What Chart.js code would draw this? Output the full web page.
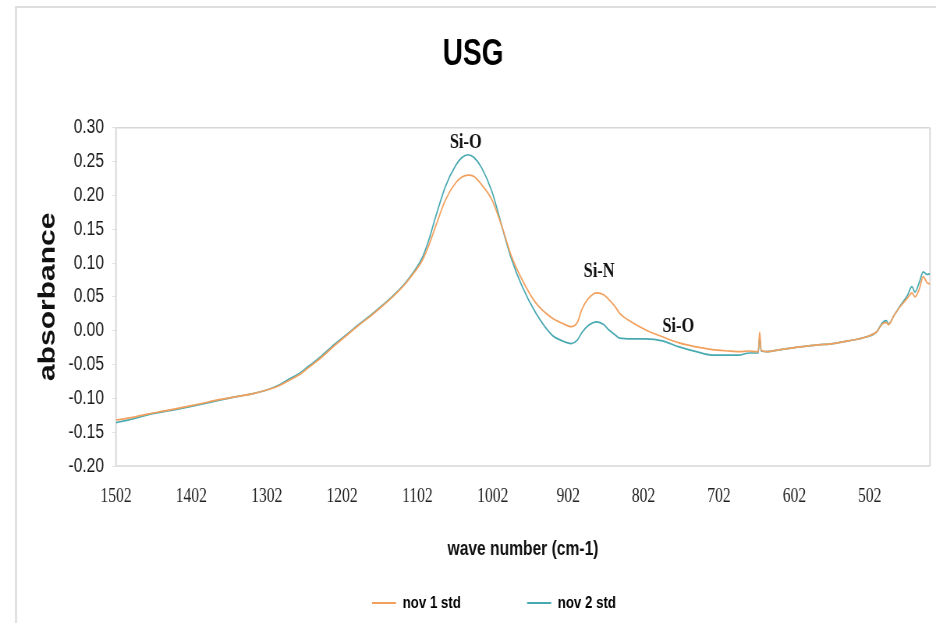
<!DOCTYPE html>
<html>
<head>
<meta charset="utf-8">
<script src="https://cdn.jsdelivr.net/npm/chart.js@4.4.1/dist/chart.umd.min.js"></script>
<style>
  html, body { margin: 0; padding: 0; background: #ffffff; }
  #wrap { width: 936px; height: 623px; overflow: hidden; }
  #usg { display: block; }
</style>
</head>
<body>
<div id="wrap"><canvas id="usg"></canvas></div>
<script>
// FTIR absorbance spectra of USG films (wave number in cm-1, decreasing to the right)
const wavenumbers = [
  1502, 1490, 1475, 1459, 1440, 1425, 1412, 1390, 1366, 1340, 1320, 1300, 1285, 1273,
  1260, 1247, 1230, 1212, 1195, 1180, 1165, 1150, 1135, 1120, 1107, 1096, 1087, 1078,
  1065, 1051, 1043, 1035, 1027, 1017, 1003, 990, 977, 963, 945, 924, 910, 898, 890,
  884, 875, 864, 855, 848, 840, 834, 817, 799, 777, 755, 732, 711, 690, 675, 662, 652,
  650, 648, 646, 639, 620, 595, 570, 551, 530, 506, 493, 485, 480, 477, 470, 462, 452,
  446, 442, 436, 431, 426, 422
];
const nov1Std = [
  -0.132, -0.130, -0.127, -0.123, -0.119, -0.116, -0.113, -0.108, -0.102, -0.097, -0.093, -0.087, -0.081, -0.074,
  -0.066, -0.055, -0.040, -0.022, -0.006, 0.008, 0.021, 0.035, 0.050, 0.067, 0.085, 0.103, 0.126, 0.154,
  0.193, 0.219, 0.227, 0.230, 0.228, 0.216, 0.193, 0.154, 0.109, 0.075, 0.041, 0.019, 0.011, 0.006, 0.012,
  0.031, 0.048, 0.056, 0.053, 0.046, 0.036, 0.026, 0.012, 0.001, -0.009, -0.018, -0.024, -0.028, -0.030, -0.031, -0.030, -0.031,
  -0.031, -0.002, -0.029, -0.031, -0.028, -0.024, -0.021, -0.019, -0.015, -0.009, -0.002, 0.010, 0.012, 0.009, 0.022, 0.035, 0.048,
  0.056, 0.050, 0.062, 0.080, 0.071, 0.069
];
const nov2Std = [
  -0.136, -0.133, -0.129, -0.124, -0.120, -0.117, -0.114, -0.109, -0.103, -0.097, -0.093, -0.087, -0.080, -0.072,
  -0.064, -0.053, -0.038, -0.020, -0.005, 0.009, 0.022, 0.036, 0.051, 0.068, 0.087, 0.107, 0.134, 0.168,
  0.213, 0.245, 0.256, 0.260, 0.256, 0.241, 0.205, 0.154, 0.105, 0.065, 0.026, -0.006, -0.015, -0.019, -0.014,
  -0.003, 0.008, 0.013, 0.009, 0.001, -0.006, -0.011, -0.012, -0.012, -0.015, -0.024, -0.031, -0.036, -0.036, -0.036, -0.033, -0.033,
  -0.033, -0.009, -0.030, -0.031, -0.028, -0.024, -0.021, -0.019, -0.015, -0.009, -0.002, 0.012, 0.015, 0.010, 0.022, 0.036, 0.052,
  0.065, 0.057, 0.072, 0.087, 0.083, 0.084
];
const seriesNames = ['nov 1 std', 'nov 2 std'];
const xTickValues = [1502, 1402, 1302, 1202, 1102, 1002, 902, 802, 702, 602, 502];
const yTickValues = [-0.20, -0.15, -0.10, -0.05, 0.00, 0.05, 0.10, 0.15, 0.20, 0.25, 0.30];

// band assignments written above the peaks
const bandNames = ['Si-O', 'Si-N', 'Si-O'];
const bandWavenumbers = [1038, 861, 756];
const bandAbsorbance = [0.278, 0.087, 0.006];

// The figure is laid out on a wider canvas and shown squeezed horizontally,
// which gives its lettering the tall, condensed look of the printed figure.
const PAGE_W = 936, PAGE_H = 623;
const K = 0.78;                       // horizontal squeeze factor
const CANVAS_W = Math.round(PAGE_W / K);
const hx = (px) => px / K;            // page px -> canvas px (horizontal only)

const SANS = "'Liberation Sans', Arial, Helvetica, sans-serif";
const SERIF = "'Liberation Serif', 'Times New Roman', serif";
const ORANGE = '#f2a05e';
const TEAL = '#48a9b1';

const canvas = document.getElementById('usg');
canvas.width = CANVAS_W;
canvas.height = PAGE_H;
canvas.style.width = PAGE_W + 'px';
canvas.style.height = PAGE_H + 'px';

const pairs = (ys) => wavenumbers.map((w, i) => ({ x: w, y: ys[i] }));

const framePlugin = {
  id: 'frame',
  beforeDraw(chart) {
    const c = chart.ctx;
    c.save();
    c.fillStyle = '#ffffff';
    c.fillRect(0, 0, chart.width, chart.height);
    c.strokeStyle = '#dedede';
    c.lineWidth = hx(2);
    c.beginPath();
    c.moveTo(hx(16), chart.height);
    c.lineTo(hx(16), 7);
    c.stroke();
    c.lineWidth = 2;
    c.beginPath();
    c.moveTo(hx(15), 7);
    c.lineTo(chart.width, 7);
    c.stroke();
    c.restore();
  },
  beforeDatasetsDraw(chart) {
    const { left, top, right, bottom } = chart.chartArea;
    const c = chart.ctx;
    c.save();
    c.strokeStyle = '#d8d8d8';
    c.lineWidth = 1.5;
    c.beginPath();
    c.moveTo(left, top); c.lineTo(right, top);
    c.moveTo(left, bottom); c.lineTo(right, bottom);
    c.stroke();
    c.lineWidth = hx(1.5);
    c.beginPath();
    c.moveTo(left, top); c.lineTo(left, bottom);
    c.moveTo(right, top); c.lineTo(right, bottom);
    c.stroke();
    c.restore();
  },
  afterLayout(chart) {
    // legend row sits a little right of the page centre
    if (chart.legend) {
      chart.legend.left += hx(21);
      chart.legend.right += hx(21);
    }
  }
};

const bandLabelPlugin = {
  id: 'bandLabels',
  afterDatasetsDraw(chart) {
    const c = chart.ctx;
    const xs = chart.scales.x, ys = chart.scales.y;
    c.save();
    c.font = 'bold 21px ' + SERIF;
    c.fillStyle = '#111111';
    c.textAlign = 'center';
    c.textBaseline = 'middle';
    bandNames.forEach((name, i) => {
      c.fillText(name, xs.getPixelForValue(bandWavenumbers[i]), ys.getPixelForValue(bandAbsorbance[i]));
    });
    c.restore();
  }
};

new Chart(canvas, {
  type: 'line',
  data: {
    datasets: [
      { label: seriesNames[0], data: pairs(nov1Std), borderColor: ORANGE, backgroundColor: ORANGE,
        borderWidth: 1.7, pointRadius: 0, cubicInterpolationMode: 'monotone', fill: false },
      { label: seriesNames[1], data: pairs(nov2Std), borderColor: TEAL, backgroundColor: TEAL,
        borderWidth: 1.7, pointRadius: 0, cubicInterpolationMode: 'monotone', fill: false }
    ]
  },
  options: {
    responsive: false,
    animation: false,
    events: [],
    devicePixelRatio: 1,
    layout: { padding: { left: hx(16), right: hx(6), top: 0, bottom: 1.5 } },
    plugins: {
      title: {
        display: true, text: 'USG', color: '#000000',
        font: { family: SANS, size: 36, weight: 'bold' },
        padding: { top: 33, bottom: 51.5 }
      },
      legend: {
        display: true, position: 'bottom', align: 'center',
        labels: {
          boxWidth: hx(24), boxHeight: 0, padding: 85, color: '#111111',
          font: { family: SANS, size: 17, weight: 'bold' },
          generateLabels: (chart) => chart.data.datasets.map((d, i) => ({
            text: d.label, fillStyle: d.borderColor, strokeStyle: d.borderColor,
            lineWidth: 2, hidden: false, datasetIndex: i
          }))
        }
      },
      tooltip: { enabled: false }
    },
    scales: {
      x: {
        type: 'linear', reverse: true, min: 422, max: 1502,
        afterBuildTicks: (s) => { s.ticks = xTickValues.map(v => ({ value: v })); },
        afterFit: (s) => { s.height = 43.5; },
        ticks: {
          callback: (v) => String(v), autoSkip: false, maxRotation: 0,
          font: { family: SERIF, size: 20 }, color: '#222222', padding: 19
        },
        grid: { display: false, drawTicks: false },
        border: { display: false },
        title: {
          display: true, text: 'wave number (cm-1)', color: '#111111',
          font: { family: SANS, size: 20, weight: 'bold' },
          padding: { top: 0, bottom: -51.5 }
        }
      },
      y: {
        type: 'linear', min: -0.2, max: 0.3,
        afterBuildTicks: (s) => { s.ticks = yTickValues.map(v => ({ value: v })); },
        afterFit: (s) => { s.width = hx(100); },
        ticks: {
          callback: (v) => Number(v).toFixed(2),
          font: { family: SANS, size: 20 }, color: '#1a1a1a', padding: hx(8)
        },
        grid: { drawOnChartArea: false, drawTicks: true, tickLength: hx(4), color: '#e2e2e2' },
        border: { display: false },
        title: {
          display: true, text: 'absorbance', color: '#111111',
          font: { family: SANS, size: 30, weight: 'bold' },
          padding: { top: 23, bottom: 0 }
        }
      }
    }
  },
  plugins: [framePlugin, bandLabelPlugin]
});
</script>
</body>
</html>
